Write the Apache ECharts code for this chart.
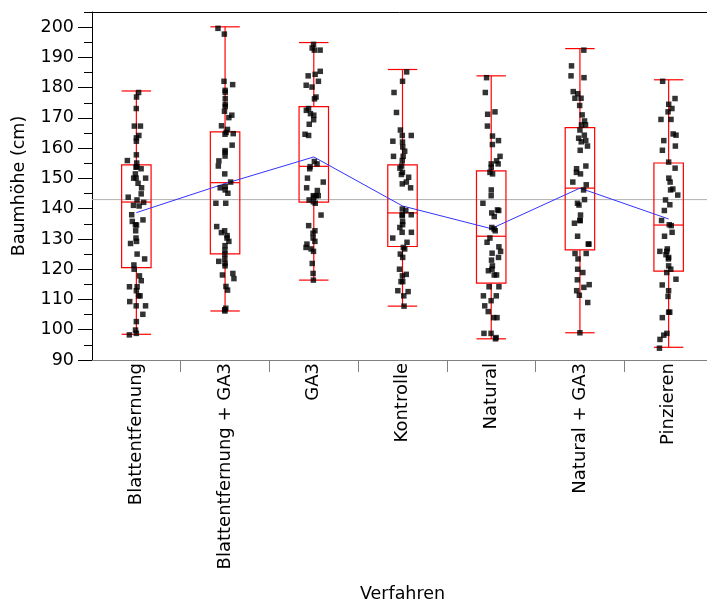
<!DOCTYPE html>
<html>
<head>
<meta charset="utf-8">
<script src="https://cdn.jsdelivr.net/npm/echarts@6/dist/echarts.min.js"></script>
<style>
html,body{margin:0;padding:0;background:#fff;overflow:hidden;}
#chart{width:707px;height:605px;}
</style>
</head>
<body>
<div id="chart"></div>
<script>
// ---- data ----
const categories = ['Blattentfernung', 'Blattentfernung + GA3', 'GA3', 'Kontrolle', 'Natural', 'Natural + GA3', 'Pinzieren'];

const blattentfernung = [178.4, 176.9, 173.1, 167.3, 167.3, 164.2, 163.4, 162.3, 157.8, 155.9, 155.1, 153.9, 153.7, 153.2, 151.5, 150.1, 150.1, 150.1, 148.4, 146.9, 144.9, 143.8, 142.9, 142.1, 141.1, 140.9, 138.0, 136.3, 135.8, 134.7, 134.6, 132.7, 130.3, 129.2, 128.5, 125.0, 123.4, 121.4, 120.0, 117.8, 116.2, 114.2, 114.2, 112.9, 111.2, 111.2, 109.3, 107.9, 107.9, 105.1, 102.7, 99.9, 98.8, 98.3];
const blattentfernungGA3 = [199.6, 197.7, 182.1, 181.0, 179.1, 178.5, 176.4, 174.5, 173.8, 172.2, 170.9, 170.1, 167.4, 166.2, 165.2, 164.8, 164.6, 161.0, 159.2, 158.7, 157.4, 155.8, 154.1, 151.5, 148.8, 147.3, 146.9, 146.2, 145.1, 141.8, 141.8, 134.1, 132.7, 132.1, 131.1, 130.3, 129.2, 127.8, 126.3, 125.0, 123.4, 122.6, 121.9, 121.1, 118.6, 118.1, 116.9, 114.3, 113.1, 107.1, 106.6, 106.2];
const ga3 = [194.3, 193.1, 192.4, 192.4, 185.4, 184.4, 183.9, 182.1, 180.8, 180.2, 176.9, 176.3, 173.1, 172.5, 171.4, 170.9, 169.4, 167.9, 164.6, 164.2, 155.6, 154.8, 153.9, 153.2, 150.1, 148.8, 146.9, 146.0, 144.3, 144.3, 144.3, 143.8, 142.9, 142.3, 141.8, 137.9, 134.4, 132.7, 131.9, 130.3, 129.2, 128.3, 127.2, 126.7, 125.9, 121.9, 118.6, 116.4];
const kontrolle = [185.2, 182.1, 178.4, 171.8, 166.0, 164.2, 164.2, 162.3, 162.0, 160.4, 159.0, 157.3, 157.3, 155.9, 154.1, 153.4, 152.0, 151.3, 150.4, 148.8, 148.2, 146.9, 139.9, 139.4, 138.0, 138.0, 137.7, 135.8, 134.7, 133.8, 132.2, 132.2, 130.3, 128.9, 127.2, 126.7, 125.0, 123.9, 120.0, 118.3, 117.8, 115.9, 115.9, 112.9, 112.6, 111.2, 107.8];
const natural = [183.3, 178.4, 172.0, 171.2, 167.3, 164.0, 162.5, 161.2, 157.3, 155.8, 154.8, 154.8, 153.7, 152.0, 151.5, 146.2, 144.3, 141.8, 139.6, 139.4, 138.6, 137.4, 133.8, 133.3, 132.7, 130.3, 128.9, 127.4, 125.9, 125.3, 123.9, 123.0, 121.1, 120.0, 119.5, 118.1, 118.1, 114.2, 114.2, 111.2, 111.2, 109.6, 107.9, 106.0, 104.0, 104.0, 98.8, 98.8, 97.4, 97.0];
const naturalGA3 = [192.4, 187.2, 183.9, 183.3, 178.7, 178.0, 176.5, 176.5, 174.1, 171.0, 169.0, 167.7, 167.7, 166.0, 164.3, 163.3, 162.5, 162.1, 160.7, 159.3, 154.1, 153.2, 152.0, 151.5, 148.8, 147.9, 146.2, 143.0, 141.8, 141.2, 137.9, 136.1, 136.1, 135.2, 130.9, 128.3, 128.3, 125.2, 125.2, 123.4, 120.0, 118.9, 116.5, 114.9, 114.0, 112.9, 111.4, 109.0, 99.0];
const pinzieren = [182.1, 176.4, 174.5, 173.1, 172.0, 169.5, 169.5, 164.7, 164.3, 162.5, 160.7, 159.3, 155.4, 153.4, 150.1, 148.8, 146.5, 146.2, 144.5, 142.9, 141.3, 139.4, 136.1, 134.7, 134.4, 132.2, 130.9, 126.7, 125.9, 125.9, 124.8, 123.9, 123.4, 121.1, 120.0, 118.9, 116.7, 114.8, 112.9, 111.0, 105.8, 105.8, 104.0, 98.8, 98.2, 96.8, 93.9];

// box summaries: [min, q1, median, q3, max]
const boxMin    = [98.5, 106.2, 116.4, 107.8, 97.0, 99.0, 94.2];
const boxQ1     = [120.5, 125.1, 142.2, 127.5, 115.4, 126.4, 119.4];
const boxMedian = [142.2, 148.6, 154.0, 138.6, 130.9, 146.8, 134.6];
const boxQ3     = [154.5, 165.4, 173.7, 154.5, 152.5, 166.8, 155.1];
const boxMax    = [178.9, 200.1, 194.9, 186.0, 183.9, 192.9, 182.6];
const groupMeans = [138.7, 148.3, 157.1, 140.9, 133.4, 146.8, 136.6];
const grandMean = 143;

const yTicks = [90, 100, 110, 120, 130, 140, 150, 160, 170, 180, 190, 200];
const yMinorTicks = [95, 105, 115, 125, 135, 145, 155, 165, 175, 185, 195, 205];

// ---- build ----
const groups = [blattentfernung, blattentfernungGA3, ga3, kontrolle, natural, naturalGA3, pinzieren];
const centers = categories.map((c, i) => i + 0.5);

function jitter(g, i) {
  const s = Math.sin((i + 1) * 12.9898 + (g + 1) * 78.233) * 43758.5453;
  const f = (s - Math.floor(s)) * 2 - 1;
  return f * Math.abs(f) * 0.11;
}

const points = [];
groups.forEach((vals, g) => {
  vals.forEach((v, i) => points.push([centers[g] + jitter(g, i), v]));
});

const boxData = centers.map((c, i) => [c, boxMin[i], boxQ1[i], boxMedian[i], boxQ3[i], boxMax[i]]);
const meanData = centers.map((c, i) => [c, groupMeans[i]]);

const FONT = 'DejaVu Sans';
const FS = 17.5;
const HW = 0.166;

const chart = echarts.init(document.getElementById('chart'), null, {renderer: 'canvas'});
chart.setOption({
  animation: false,
  backgroundColor: '#fff',
  grid: {left: 92, right: -6, top: 12, bottom: 245, containLabel: false, outerBoundsMode: 'none'},
  xAxis: [{
    type: 'value', min: 0, max: 7, position: 'bottom',
    name: 'Verfahren', nameLocation: 'middle', nameGap: 225,
    nameTextStyle: {fontFamily: FONT, fontSize: FS, color: '#000'},
    axisLine: {show: true, lineStyle: {color: '#808080', width: 1}},
    axisTick: {show: true, customValues: [1, 2, 3, 4, 5, 6], length: 12, lineStyle: {color: '#808080'}},
    axisLabel: {
      show: true, customValues: centers, rotate: 90, margin: 3,
      fontFamily: FONT, fontSize: 18, color: '#000',
      formatter: v => categories[Math.round(v - 0.5)]
    },
    splitLine: {show: false}
  }, {
    type: 'value', min: 0, max: 7, position: 'top',
    axisLine: {show: true, lineStyle: {color: '#000', width: 1}},
    axisTick: {show: false}, axisLabel: {show: false}, splitLine: {show: false}
  }],
  yAxis: [{
    type: 'value', min: 90, max: 205, interval: 5, position: 'left',
    name: 'Baumhöhe (cm)', nameLocation: 'middle', nameGap: 64,
    nameTextStyle: {fontFamily: FONT, fontSize: FS, color: '#000'},
    axisLine: {show: true, lineStyle: {color: '#000', width: 1}},
    axisTick: {show: true, customValues: yTicks, length: 14, lineStyle: {color: '#000'}},
    axisLabel: {show: true, customValues: yTicks, margin: 18, fontFamily: FONT, fontSize: FS, color: '#000'},
    splitLine: {show: false}
  }, {
    type: 'value', min: 90, max: 205, interval: 5, position: 'left',
    axisLine: {show: false},
    axisTick: {show: true, customValues: yMinorTicks, length: 8, lineStyle: {color: '#000'}},
    axisLabel: {show: false}, splitLine: {show: false}
  }],
  series: [{
    type: 'line', z: 1, silent: true,
    data: [[0, grandMean], [7, grandMean]],
    symbol: 'none', lineStyle: {color: '#b0b0b0', width: 1}
  }, {
    type: 'custom', z: 2, silent: true,
    data: boxData,
    renderItem: function (params, api) {
      const x = api.value(0);
      const mn = api.value(1), q1 = api.value(2), md = api.value(3), q3 = api.value(4), mx = api.value(5);
      const tl = api.coord([x - HW, q3]);
      const br = api.coord([x + HW, q1]);
      const c = api.coord([x, md]);
      const pMax = api.coord([x, mx]);
      const pMin = api.coord([x, mn]);
      const style = {stroke: '#ff0000', fill: null, lineWidth: 1.2};
      const line = (x1, y1, x2, y2) => ({type: 'line', shape: {x1, y1, x2, y2}, style});
      return {
        type: 'group',
        children: [
          {type: 'rect', shape: {x: tl[0], y: tl[1], width: br[0] - tl[0], height: br[1] - tl[1]}, style},
          line(tl[0], c[1], br[0], c[1]),
          line(c[0], tl[1], c[0], pMax[1]),
          line(c[0], br[1], c[0], pMin[1]),
          line(tl[0], pMax[1], br[0], pMax[1]),
          line(tl[0], pMin[1], br[0], pMin[1])
        ]
      };
    }
  }, {
    type: 'line', z: 3, silent: true,
    data: meanData, symbol: 'none',
    lineStyle: {color: '#3333ff', width: 1}
  }, {
    type: 'scatter', z: 4, silent: true,
    data: points, symbol: 'rect', symbolSize: 5.5,
    itemStyle: {color: '#000'}
  }]
});
</script>
</body>
</html>
